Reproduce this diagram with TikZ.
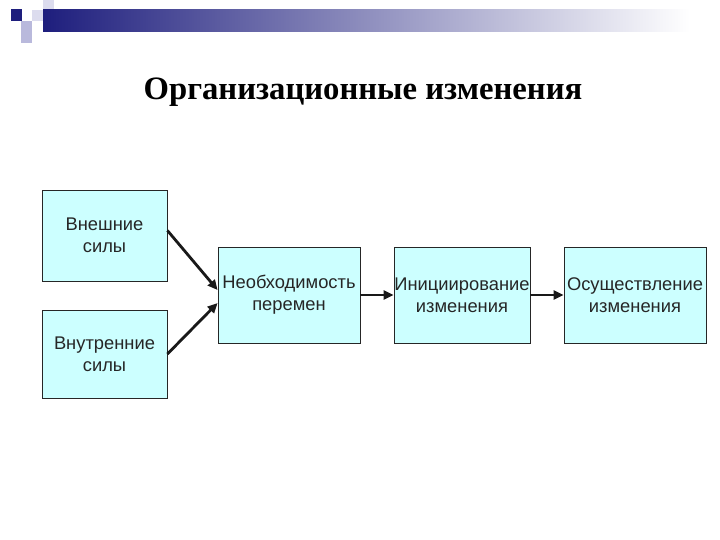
\documentclass[tikz,border=0pt]{standalone}
\usepackage{fontspec}
\setmainfont{Liberation Sans}
\newfontfamily\titlefont{Liberation Serif}
\usetikzlibrary{arrows.meta,calc}
\definecolor{boxfill}{RGB}{204,255,255}
\definecolor{navy}{RGB}{30,30,125}
\definecolor{midgray}{RGB}{150,150,180}
\definecolor{lav}{RGB}{185,185,220}
\definecolor{lavlight}{RGB}{220,220,238}
\begin{document}
\begin{tikzpicture}[x=1bp,y=-1bp,
  box/.style={draw=black!85,line width=0.8bp,fill=boxfill,inner sep=0pt,
    align=center,font=\fontsize{18.4}{22}\selectfont,text=black!85},
  conn/.style={line width=2.8bp,black!90,-{Triangle[length=10bp,width=9bp]}}]
\useasboundingbox (0,0) rectangle (720,540);
% header decoration
\fill[lavlight] (43,0) rectangle (54,10);
\fill[lavlight] (32,10) rectangle (54,21);
\fill[navy] (11,9) rectangle (22,21);
\fill[lav] (21,21) rectangle (32,43);
\shade[left color=navy,middle color=midgray,right color=white,shading angle=90] (43,10) rectangle (690,32);
% title
\node (title) at (363,92) {\titlefont\bfseries\fontsize{32.8}{38}\selectfont Организационные изменения};
% boxes
\node[box,minimum width=125bp,minimum height=91bp] (ext) at (104.5,235.5) {Внешние\\силы};
\node[box,minimum width=125bp,minimum height=88bp] (int) at (104.5,354) {Внутренние\\силы};
\node[box,minimum width=142bp,minimum height=96bp] (need) at (289,295) {Необходимость\\перемен};
\node[box,minimum width=136bp,minimum height=96bp] (init) at (462,295) {Инициирование\\изменения};
\node[box,minimum width=142bp,minimum height=96bp] (impl) at (635,295) {Осуществление\\изменения};
% connectors
\draw[conn] ([yshift=5bp]ext.east) -- ([yshift=5bp]need.west);
\draw[conn] (int.east) -- ([yshift=-8bp]need.west);
\draw[conn] (need) -- (init);
\draw[conn] (init) -- (impl);
\end{tikzpicture}
\end{document}
